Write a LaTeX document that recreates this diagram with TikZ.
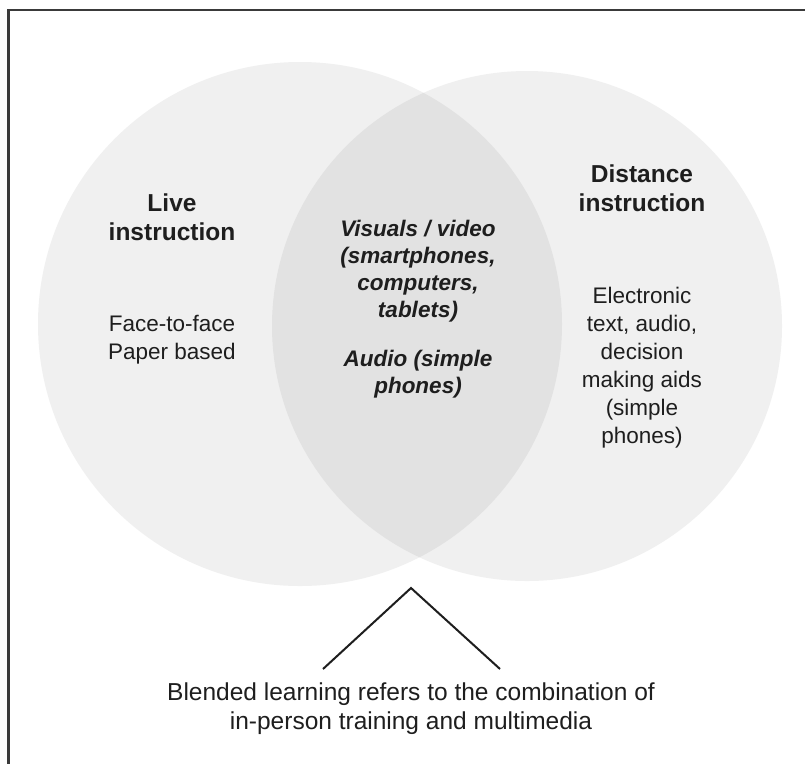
\documentclass[tikz,border=0pt]{standalone}
\usepackage{fontspec}
\setmainfont{Liberation Sans}
\begin{document}
\begin{tikzpicture}[x=1pt,y=-1pt,
  title/.style={align=center,text=ink,font=\fontsize{24.5}{29.5}\selectfont\bfseries,inner sep=0pt},
  body/.style={align=center,text=ink,font=\fontsize{22.5}{28}\selectfont,inner sep=0pt},
  foot/.style={align=center,text=ink,font=\fontsize{24.5}{29}\selectfont,inner sep=0pt},
  mid/.style={align=center,text=ink,font=\fontsize{22.5}{27}\selectfont\bfseries\itshape,inner sep=0pt},
  frameline/.style={line width=2.5pt,draw=framec},
  peak/.style={line width=2pt,draw=ink}]
\definecolor{circ}{gray}{0.94}
\definecolor{lens}{gray}{0.885}
\definecolor{ink}{HTML}{1E1E1E}
\definecolor{framec}{HTML}{3A3A3A}
\useasboundingbox (0,0) rectangle (805,764);
\fill[white] (0,0) rectangle (805,764);
% circles
\fill[circ] (300,324) circle (262pt);
\fill[circ] (527,326) circle (255pt);
\begin{scope}
  \clip (300,324) circle (262pt);
  \fill[lens] (527,326) circle (255pt);
\end{scope}
% frame
\coordinate (ftr) at (805,10);
\coordinate (ftl) at (8.5,10);
\coordinate (fbl) at (8.5,764);
\draw[frameline] (ftr) -- (ftl) -- (fbl);
% texts
\node[title] (lt) at (172,217) {Live\\instruction};
\node[body] (lb) at (172,340) {Face-to-face\\Paper based};
\node[title] (rt) at (642,188) {Distance\\instruction};
\node[body] (rb) at (642,368) {Electronic\\text, audio,\\decision\\making aids\\(simple\\phones)};
\node[mid] (m1) at (418,271) {Visuals / video\\(smartphones,\\computers,\\tablets)};
\node[mid] (m2) at (418,374) {Audio (simple\\phones)};
% peak
\coordinate (pl) at (323,669);
\coordinate (pa) at (411,588);
\coordinate (pr) at (500,669);
\draw[peak] (pl) -- (pa) -- (pr);
\node[foot] (bt) at (411,709) {Blended learning refers to the combination of\\in-person training and multimedia};
\end{tikzpicture}
\end{document}
